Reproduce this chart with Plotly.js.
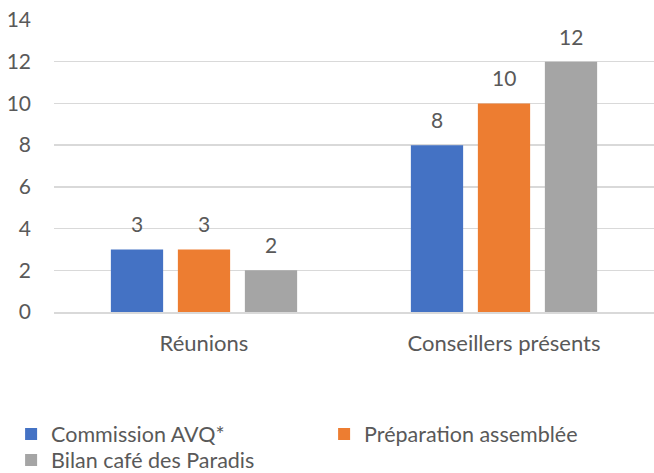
<!DOCTYPE html>
<html>
<head>
<meta charset="utf-8">
<script src="https://cdn.plot.ly/plotly-3.0.1.min.js"></script>
<style>html,body{margin:0;padding:0;background:#fff;}#chart{width:654px;height:473px;}</style>
</head>
<body>
<div id="chart"></div>
<script>
var categories = ["Réunions", "Conseillers présents"];
var seriesNames = ["Commission AVQ*", "Préparation assemblée", "Bilan café des Paradis"];
var commissionAVQ = [3, 8];
var preparationAssemblee = [3, 10];
var bilanCafe = [2, 12];
var yTickValues = [0, 2, 4, 6, 8, 10, 12, 14];
var seriesColors = ["#4472C4", "#ED7D31", "#A5A5A5"];

var seriesValues = [commissionAVQ, preparationAssemblee, bilanCafe];
var legendRows = ["legend", "legend", "legend2"];
var FONT = "Lato, 'Liberation Sans', sans-serif";
var TXT = "#595959";
var bargap = 0.33;
var nSeries = seriesValues.length;

var traces = seriesValues.map(function (vals, i) {
  return {
    type: "bar",
    name: seriesNames[i],
    x: categories,
    y: vals,
    legend: legendRows[i],
    marker: {color: seriesColors[i]},
    hoverinfo: "none"
  };
});

var annotations = [];
seriesValues.forEach(function (vals, i) {
  vals.forEach(function (v, c) {
    annotations.push({
      xref: "x", yref: "y",
      x: c + (i - (nSeries - 1) / 2) * (1 - bargap) / nSeries,
      y: v,
      text: String(v),
      showarrow: false,
      yanchor: "bottom",
      yshift: 11,
      font: {family: FONT, size: 21, color: TXT}
    });
  });
});

var legendFont = {family: FONT, size: 21.5, color: TXT};

var layout = {
  width: 654, height: 473,
  margin: {l: 54, r: 0, t: 20, b: 161, autoexpand: false},
  paper_bgcolor: "#fff", plot_bgcolor: "#fff",
  barmode: "group",
  bargap: bargap,
  bargroupgap: 0.22,
  font: {family: FONT, size: 21, color: TXT},
  xaxis: {
    type: "category",
    showgrid: false,
    showline: true, linecolor: "#D9D9D9", linewidth: 1.5,
    ticks: "",
    ticklabelstandoff: 11,
    tickfont: {family: FONT, size: 22, color: TXT},
    fixedrange: true
  },
  yaxis: {
    range: [0, 14],
    tickvals: yTickValues,
    ticktext: yTickValues.map(String),
    showgrid: true, gridcolor: "#D9D9D9", gridwidth: 1.5,
    zeroline: false,
    showline: false,
    ticks: "",
    ticklabelstandoff: 22,
    tickfont: {family: FONT, size: 21, color: TXT},
    fixedrange: true
  },
  showlegend: true,
  legend: {
    orientation: "h",
    x: -0.0715, xanchor: "left",
    y: -0.4178, yanchor: "middle",
    entrywidth: 268, entrywidthmode: "pixels",
    bgcolor: "rgba(0,0,0,0)",
    font: legendFont,
    traceorder: "normal",
    itemclick: false, itemdoubleclick: false
  },
  legend2: {
    orientation: "h",
    x: -0.0715, xanchor: "left",
    y: -0.5068, yanchor: "middle",
    entrywidth: 268, entrywidthmode: "pixels",
    bgcolor: "rgba(0,0,0,0)",
    font: legendFont,
    traceorder: "normal",
    itemclick: false, itemdoubleclick: false
  },
  annotations: annotations
};

Plotly.newPlot("chart", traces, layout, {displayModeBar: false, staticPlot: true});
</script>
</body>
</html>
